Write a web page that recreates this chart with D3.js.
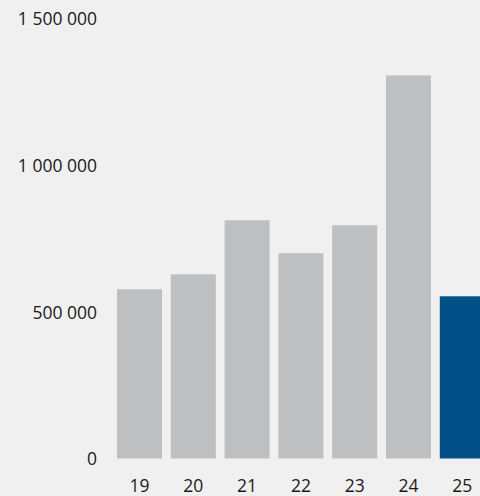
<!DOCTYPE html>
<html>
<head>
<meta charset="utf-8">
<script src="https://cdn.jsdelivr.net/npm/d3@7/dist/d3.min.js"></script>
<style>
  html, body { margin: 0; padding: 0; background: #f0f0f0; }
  svg { display: block; }
  text { font-family: "Open Sans", "Noto Sans", sans-serif; fill: #1a1a1a; }
</style>
</head>
<body>
<div id="chart"></div>
<script>
// Yearly values, '19 to '25
const years = ["19", "20", "21", "22", "23", "24", "25"];
const values = [577000, 628000, 812000, 700000, 795000, 1306000, 553000];
const highlightYear = "25";
const yTicks = [0, 500000, 1000000, 1500000];

const width = 480, height = 496;
const fontSize = 17.5;

const svg = d3.select("#chart").append("svg")
  .attr("width", width).attr("height", height);

svg.append("rect").attr("width", width).attr("height", height).attr("fill", "#f0f0f0");

// bars: 45px wide on a ~53.8px step, last bar runs off the right edge
const x = d3.scaleBand()
  .domain(years)
  .range([117, 484.8])
  .paddingInner(0.1636)
  .paddingOuter(0);

const y = d3.scaleLinear()
  .domain([0, 1500000])
  .range([458.5, 18.5]);

// y axis labels, space as thousands separator
const yAxis = d3.axisLeft(y).tickValues(yTicks).tickSize(0).tickPadding(0)
  .tickFormat(v => d3.format(",")(v).replace(/,/g, " "));
const gy = svg.append("g").attr("transform", "translate(97,0)").call(yAxis);
gy.select(".domain").remove();
gy.selectAll("text").attr("font-size", fontSize).attr("fill", "#1a1a1a")
  .attr("font-family", "'Open Sans', sans-serif").attr("dy", "0.36em");

svg.append("g").selectAll("rect").data(years).join("rect")
  .attr("x", d => x(d))
  .attr("width", x.bandwidth())
  .attr("y", (d, i) => y(values[i]))
  .attr("height", (d, i) => y(0) - y(values[i]))
  .attr("fill", d => d === highlightYear ? "#005088" : "#bebfc1");

// x axis labels
const xAxis = d3.axisBottom(x).tickSize(0).tickPadding(0);
const gx = svg.append("g").attr("transform", "translate(0,492)").call(xAxis);
gx.select(".domain").remove();
gx.selectAll("text").attr("font-size", fontSize).attr("fill", "#1a1a1a")
  .attr("font-family", "'Open Sans', sans-serif").attr("dy", "0");
</script>
</body>
</html>
